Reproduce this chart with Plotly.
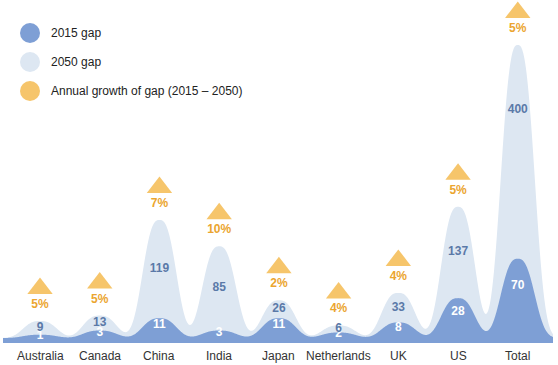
import numpy as np
import plotly.graph_objects as go

categories = ["Australia", "Canada", "China", "India", "Japan", "Netherlands", "UK", "US", "Total"]
gap_2015 = [1, 3, 11, 3, 11, 2, 8, 28, 70]
gap_2050 = [9, 13, 119, 85, 26, 6, 33, 137, 400]
growth_labels = ["5%", "5%", "7%", "10%", "2%", "4%", "4%", "5%", "5%"]

series_names = ["2015 gap", "2050 gap", "Annual growth of gap (2015 – 2050)"]

DARK = "#7e9fd5"
LIGHT = "#dde7f2"
ORANGE = "#f6c56b"
ORANGE_TXT = "#eba52f"
LIGHT_TXT = "#5a79a8"
FONT = "Liberation Sans"

EXP = 0.75            # visual compression of the values
PX = 1 / 3.276        # data units per pixel
BASE = 5 * PX
S, P = 0.343, 2.7
XMIN, XMAX = -0.62, 8.59

x = np.linspace(XMIN, XMAX, 1500)


def profile(vals):
    y = np.full_like(x, BASE)
    for i, v in enumerate(vals):
        y += (v ** EXP) * np.exp(-(np.abs(x - i) / S) ** P)
    return y


fig = go.Figure()
fig.add_trace(go.Scatter(x=x, y=profile(gap_2050), fill="tozeroy", mode="none",
                         fillcolor=LIGHT, hoverinfo="skip", showlegend=False))
fig.add_trace(go.Scatter(x=x, y=profile(gap_2015), fill="tozeroy", mode="none",
                         fillcolor=DARK, hoverinfo="skip", showlegend=False))

idx = list(range(len(categories)))
top_d = [BASE + v ** EXP for v in gap_2015]
top_l = [BASE + v ** EXP for v in gap_2050]
dark_lab_y = [max(BASE + 0.65 * (v ** EXP), 6 * PX) for v in gap_2015]
light_lab_y = [tl - min(0.5 * (tl - td), 65 * PX) for tl, td in zip(top_l, top_d)]
tri_y = [tl + 32.5 * PX for tl in top_l]
pct_y = [tl + 16 * PX for tl in top_l]

fig.add_trace(go.Scatter(x=idx, y=dark_lab_y, mode="text", text=[str(v) for v in gap_2015],
                         textfont=dict(family=FONT, size=12, color="white", weight="bold"),
                         hoverinfo="skip", showlegend=False, cliponaxis=False))
fig.add_trace(go.Scatter(x=idx, y=light_lab_y, mode="text", text=[str(v) for v in gap_2050],
                         textfont=dict(family=FONT, size=12, color=LIGHT_TXT, weight="bold"),
                         hoverinfo="skip", showlegend=False))
fig.add_trace(go.Scatter(x=idx, y=tri_y, mode="markers",
                         marker=dict(symbol="triangle-up", size=22, color=ORANGE, line=dict(width=0)),
                         hoverinfo="skip", showlegend=False, cliponaxis=False))
fig.add_trace(go.Scatter(x=idx, y=pct_y, mode="text", text=growth_labels,
                         textfont=dict(family=FONT, size=12, color=ORANGE_TXT, weight="bold"),
                         hoverinfo="skip", showlegend=False))

# category labels under the baseline
for i, c in zip(idx, categories):
    fig.add_annotation(x=i, y=0, xref="x", yref="y", text=c, showarrow=False,
                       yanchor="middle", yshift=-13,
                       font=dict(family=FONT, size=12, color="#333333"))

# legend drawn as shapes + annotations
plot_w, plot_h = 550, 343
leg_cols = [DARK, LIGHT, ORANGE]
leg_y_px = [33, 62, 91]
for name, col, ypx in zip(series_names, leg_cols, leg_y_px):
    yp = 1 - ypx / plot_h
    xp = (30 - 3) / plot_w
    fig.add_shape(type="circle", xref="paper", yref="paper", xsizemode="pixel", ysizemode="pixel",
                  xanchor=xp, yanchor=yp, x0=-10, x1=10, y0=-10, y1=10,
                  fillcolor=col, line=dict(width=0))
    fig.add_annotation(xref="paper", yref="paper", x=(49 - 3) / plot_w, y=yp, text=name,
                       showarrow=False, xanchor="left", yanchor="middle",
                       font=dict(family=FONT, size=12, color="#222222"))

fig.update_layout(
    width=558, height=365,
    margin=dict(l=3, r=5, t=0, b=22, autoexpand=False),
    paper_bgcolor="white", plot_bgcolor="white",
    xaxis=dict(range=[XMIN, XMAX], showticklabels=False, showgrid=False, automargin=False,
               zeroline=False, showline=False, ticks=""),
    yaxis=dict(range=[0, 343 * PX], visible=False, showgrid=False, zeroline=False, automargin=False),
)
fig.write_html("out.html", config={"displayModeBar": False},
               post_script="document.body.style.margin='0';document.body.style.overflow='hidden';")
